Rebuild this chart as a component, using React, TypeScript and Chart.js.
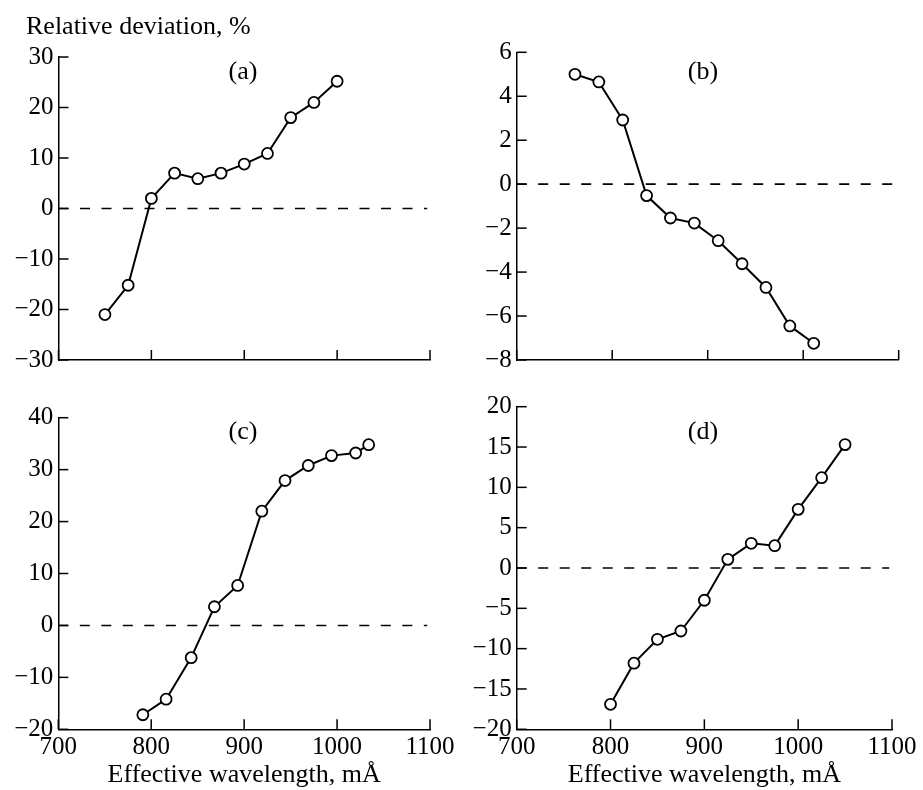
import React, { useEffect, useRef } from 'react';
import { Chart, registerables } from 'chart.js';
Chart.register(...registerables);

// ---- data ----
const xMin = 700;
const xMax = 1100;
const xStep = 100;

const aX = [750, 775, 800, 825, 850, 875, 900, 925, 950, 975, 1000];
const aY = [-21, -15.2, 2, 7, 5.9, 7, 8.8, 10.9, 18, 21, 25.2];
const aYTicks = [-30, -20, -10, 0, 10, 20, 30];

const bX = [761, 786, 811, 836, 861, 886, 911, 936, 961, 986, 1011];
const bY = [5.0, 4.65, 2.92, -0.52, -1.54, -1.77, -2.57, -3.62, -4.7, -6.45, -7.24];
const bYTicks = [-8, -6, -4, -2, 0, 2, 4, 6];

const cX = [791, 816, 843, 868, 893, 919, 944, 969, 994, 1020, 1034];
const cY = [-17.2, -14.2, -6.2, 3.6, 7.7, 22.0, 27.9, 30.8, 32.7, 33.2, 34.8];
const cYTicks = [-20, -10, 0, 10, 20, 30, 40];

const dX = [800, 825, 850, 875, 900, 925, 950, 975, 1000, 1025, 1050];
const dY = [-16.9, -11.8, -8.84, -7.81, -4.0, 1.07, 3.06, 2.77, 7.27, 11.2, 15.3];
const dYTicks = [-20, -15, -10, -5, 0, 5, 10, 15, 20];

const yTitle = 'Relative deviation, %';
const xTitle = 'Effective wavelength, mÅ';
const panelLabels = ['(a)', '(b)', '(c)', '(d)'];

const FONT = "'Liberation Serif', 'Times New Roman', serif";

type PanelCfg = {
  left: number; top: number; w: number; h: number;
  area: { l: number; t: number; r: number; b: number };
  xs: number[]; ys: number[]; yTicks: number[];
  label: string; labelX: number; labelY: number;
  showX: boolean; showYTitle: boolean;
};

const panels: PanelCfg[] = [
  { left: 0, top: 0, w: 461, h: 380, area: { l: 58.5, t: 57, r: 430, b: 368 },
    xs: aX, ys: aY, yTicks: aYTicks, label: panelLabels[0], labelX: 243, labelY: 72, showX: false, showYTitle: true },
  { left: 461, top: 0, w: 462, h: 380, area: { l: 55.7, t: 52.3, r: 437.7, b: 368.3 },
    xs: bX, ys: bY, yTicks: bYTicks, label: panelLabels[1], labelX: 242, labelY: 72, showX: false, showYTitle: false },
  { left: 0, top: 380, w: 461, h: 410, area: { l: 58.3, t: 37.7, r: 430, b: 349.3 },
    xs: cX, ys: cY, yTicks: cYTicks, label: panelLabels[2], labelX: 243, labelY: 52, showX: true, showYTitle: false },
  { left: 461, top: 380, w: 462, h: 410, area: { l: 55.7, t: 26.7, r: 431, b: 349.3 },
    xs: dX, ys: dY, yTicks: dYTicks, label: panelLabels[3], labelX: 242, labelY: 52, showX: true, showYTitle: false },
];

function makeDecorPlugin(cfg: PanelCfg) {
  return {
    id: 'decor',
    beforeDatasetsDraw(chart: any) {
      const { ctx, chartArea, scales } = chart;
      ctx.save();
      ctx.strokeStyle = '#000';
      ctx.lineWidth = 1.5;
      scales.y.ticks.forEach((t: any) => {
        const py = scales.y.getPixelForValue(t.value);
        ctx.beginPath();
        ctx.moveTo(chartArea.left, py);
        ctx.lineTo(chartArea.left + 10, py);
        ctx.stroke();
      });
      scales.x.ticks.forEach((t: any) => {
        const px = scales.x.getPixelForValue(t.value);
        ctx.beginPath();
        ctx.moveTo(px, chartArea.bottom);
        ctx.lineTo(px, chartArea.bottom - 10);
        ctx.stroke();
      });
      ctx.restore();
    },
    afterDraw(chart: any) {
      const { ctx, chartArea } = chart;
      ctx.save();
      ctx.fillStyle = '#000';
      ctx.font = `26px ${FONT}`;
      ctx.textAlign = 'center';
      ctx.textBaseline = 'middle';
      ctx.fillText(cfg.label, cfg.labelX, cfg.labelY);
      if (cfg.showYTitle) {
        ctx.textAlign = 'left';
        ctx.textBaseline = 'alphabetic';
        ctx.fillText(yTitle, 26, 34);
      }
      if (cfg.showX) {
        ctx.textAlign = 'center';
        ctx.textBaseline = 'alphabetic';
        ctx.fillText(xTitle, (chartArea.left + chartArea.right) / 2, 402);
      }
      ctx.restore();
    },
  };
}

function Panel({ cfg }: { cfg: PanelCfg }) {
  const ref = useRef<HTMLCanvasElement | null>(null);
  useEffect(() => {
    if (!ref.current) return;
    const { area } = cfg;
    const xAxisH = cfg.showX ? 40 : 0;
    const chart = new Chart(ref.current, {
      type: 'line',
      data: {
        datasets: [
          {
            data: cfg.xs.map((x, i) => ({ x, y: cfg.ys[i] })),
            borderColor: '#000',
            borderWidth: 2,
            pointRadius: 5.5,
            pointBackgroundColor: '#fff',
            pointBorderColor: '#000',
            pointBorderWidth: 1.8,
            tension: 0,
          },
          {
            data: [{ x: xMin, y: 0 }, { x: xMax - 3, y: 0 }],
            borderColor: '#000',
            borderWidth: 1.6,
            borderDash: [10, 11.5],
            pointRadius: 0,
          },
        ],
      },
      options: {
        animation: false,
        responsive: false,
        devicePixelRatio: 1,
        layout: {
          padding: {
            left: 0,
            top: area.t,
            right: cfg.w - area.r,
            bottom: cfg.h - area.b - xAxisH,
          },
        },
        plugins: { legend: { display: false }, tooltip: { enabled: false }, title: { display: false } },
        scales: {
          x: {
            type: 'linear',
            min: xMin,
            max: xMax,
            grid: { display: false, drawTicks: false },
            border: { display: true, color: '#000', width: 1.5 },
            ticks: {
              display: cfg.showX,
              stepSize: xStep,
              padding: 3,
              color: '#000',
              font: { family: FONT, size: 25 },
              maxRotation: 0,
              callback: (v: any) => String(v),
            },
            afterFit: (s: any) => { s.height = xAxisH; },
          },
          y: {
            type: 'linear',
            min: cfg.yTicks[0],
            max: cfg.yTicks[cfg.yTicks.length - 1],
            grid: { display: false, drawTicks: false },
            border: { display: true, color: '#000', width: 1.5 },
            ticks: {
              stepSize: cfg.yTicks[1] - cfg.yTicks[0],
              padding: 5,
              color: '#000',
              font: { family: FONT, size: 25 },
              callback: (v: any) => String(v).replace('-', '\u2212'),
            },
            afterFit: (s: any) => { s.width = area.l; },
          },
        },
      } as any,
      plugins: [makeDecorPlugin(cfg)],
    });
    return () => chart.destroy();
  }, []);
  return (
    <canvas
      ref={ref}
      width={cfg.w}
      height={cfg.h}
      style={{ position: 'absolute', left: cfg.left, top: cfg.top, width: cfg.w, height: cfg.h }}
    />
  );
}

export default function App() {
  return (
    <div style={{ position: 'absolute', left: 0, top: 0, width: 923, height: 790, background: '#fff' }}>
      {panels.map((p, i) => (
        <Panel key={i} cfg={p} />
      ))}
    </div>
  );
}
